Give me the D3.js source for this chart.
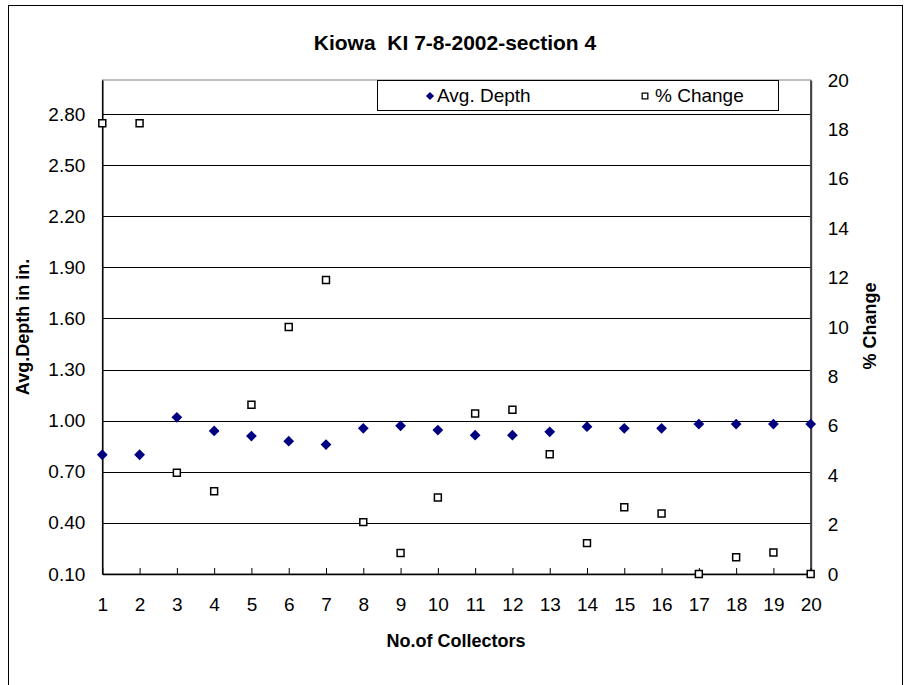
<!doctype html>
<html>
<head>
<meta charset="UTF-8">
<title>Kiowa KI 7-8-2002-section 4</title>
<script src="https://d3js.org/d3.v7.min.js"></script>
<style>
  body { margin: 0; background: #fff; }
  text { font-family: Arial, "Liberation Sans", sans-serif; }
</style>
</head>
<body>
<svg id="chart" width="910" height="685"></svg>
<script>
  // data
  var collectors = [1, 2, 3, 4, 5, 6, 7, 8, 9, 10, 11, 12, 13, 14, 15, 16, 17, 18, 19, 20];
  var avgDepth = [0.80, 0.80, 1.02, 0.94, 0.91, 0.88, 0.86, 0.955, 0.97, 0.945,
                  0.915, 0.915, 0.935, 0.965, 0.955, 0.955, 0.98, 0.98, 0.98, 0.98];
  var pctChange = [18.25, 18.25, 4.1, 3.35, 6.85, 10.0, 11.9, 2.1, 0.85, 3.1,
                   6.5, 6.65, 4.85, 1.25, 2.7, 2.45, 0, 0.68, 0.87, 0];
  var leftTicks = [0.10, 0.40, 0.70, 1.00, 1.30, 1.60, 1.90, 2.20, 2.50, 2.80];
  var rightTicks = [0, 2, 4, 6, 8, 10, 12, 14, 16, 18, 20];

  // plot area edges (window.top is reserved, so prefixed names)
  var plotL = 102.3, plotR = 810.7, plotT = 80, plotB = 574;

  var svg = d3.select("#chart");

  // outer chart border
  svg.append("rect")
    .attr("x", 8.5).attr("y", 5.5)
    .attr("width", 894).attr("height", 700)
    .attr("fill", "#fff").attr("stroke", "#000").attr("stroke-width", 1);

  var x = d3.scaleLinear().domain([1, 20]).range([plotL, plotR]);
  var yL = d3.scaleLinear().domain([0.1, 3.0]).range([plotB, plotT]);
  var yR = d3.scaleLinear().domain([0, 20]).range([plotB, plotT]);

  // plot area frame
  svg.append("rect")
    .attr("x", plotL).attr("y", plotT)
    .attr("width", plotR - plotL).attr("height", plotB - plotT)
    .attr("fill", "none").attr("stroke", "#808080").attr("stroke-width", 1);

  // gridlines from the left axis ticks
  svg.append("g").selectAll("line")
    .data(leftTicks.slice(1))
    .enter().append("line")
    .attr("x1", plotL).attr("x2", plotR)
    .attr("y1", function (d) { return Math.round(yL(d)) + 0.5; })
    .attr("y2", function (d) { return Math.round(yL(d)) + 0.5; })
    .attr("stroke", "#000").attr("stroke-width", 1);

  // left axis
  var gL = svg.append("g")
    .attr("transform", "translate(" + plotL + ",0)")
    .call(d3.axisLeft(yL).tickValues(leftTicks).tickFormat(d3.format(".2f"))
      .tickSize(0).tickPadding(17));
  gL.select(".domain").attr("stroke", "#000").attr("stroke-width", 1.5);

  // right axis
  var gR = svg.append("g")
    .attr("transform", "translate(" + plotR + ",0)")
    .call(d3.axisRight(yR).tickValues(rightTicks).tickSize(0).tickPadding(17));
  gR.select(".domain").attr("stroke", "#404040").attr("stroke-width", 2);

  // bottom axis, ticks point inward
  var gX = svg.append("g")
    .attr("transform", "translate(0," + plotB + ")")
    .call(d3.axisBottom(x).tickValues(collectors).tickFormat(d3.format("d"))
      .tickSizeInner(-6).tickSizeOuter(0).tickPadding(24));
  gX.select(".domain").attr("stroke", "#000").attr("stroke-width", 1.5);

  svg.selectAll(".tick text").attr("font-size", 19).attr("fill", "#000")
    .style("font-family", "Arial, 'Liberation Sans', sans-serif");
  svg.selectAll(".tick line").attr("stroke", "#000");

  // % Change squares
  svg.append("g").selectAll("path")
    .data(pctChange)
    .enter().append("path")
    .attr("d", d3.symbol().type(d3.symbolSquare).size(48))
    .attr("transform", function (d, i) {
      return "translate(" + x(collectors[i]) + "," + yR(d) + ")";
    })
    .attr("fill", "#fff").attr("stroke", "#000").attr("stroke-width", 1.5);

  // Avg. Depth diamonds
  svg.append("g").selectAll("path")
    .data(avgDepth)
    .enter().append("path")
    .attr("d", d3.symbol().type(d3.symbolSquare).size(58))
    .attr("transform", function (d, i) {
      return "translate(" + x(collectors[i]) + "," + yL(d) + ") rotate(45)";
    })
    .attr("fill", "#000080");

  // legend
  var lg = svg.append("g");
  lg.append("rect")
    .attr("x", 377.5).attr("y", 80.5).attr("width", 401).attr("height", 30)
    .attr("fill", "#fff").attr("stroke", "#000").attr("stroke-width", 1);
  lg.append("path")
    .attr("d", d3.symbol().type(d3.symbolSquare).size(34))
    .attr("transform", "translate(430,96) rotate(45)")
    .attr("fill", "#000080");
  lg.append("text").attr("x", 437).attr("y", 102).attr("font-size", 19).text("Avg. Depth");
  lg.append("path")
    .attr("d", d3.symbol().type(d3.symbolSquare).size(32))
    .attr("transform", "translate(645,96)")
    .attr("fill", "#fff").attr("stroke", "#000").attr("stroke-width", 1.3);
  lg.append("text").attr("x", 655).attr("y", 102).attr("font-size", 19).text("% Change");

  // titles
  svg.append("text")
    .attr("x", 455).attr("y", 50)
    .attr("text-anchor", "middle")
    .attr("font-size", 21).attr("font-weight", "bold")
    .style("white-space", "pre")
    .text("Kiowa  KI 7-8-2002-section 4");

  svg.append("text")
    .attr("x", 456).attr("y", 647)
    .attr("text-anchor", "middle")
    .attr("font-size", 18).attr("font-weight", "bold")
    .text("No.of Collectors");

  svg.append("text")
    .attr("transform", "translate(29,327) rotate(-90)")
    .attr("text-anchor", "middle")
    .attr("font-size", 18).attr("font-weight", "bold")
    .text("Avg.Depth in in.");

  svg.append("text")
    .attr("transform", "translate(876,326) rotate(-90)")
    .attr("text-anchor", "middle")
    .attr("font-size", 18).attr("font-weight", "bold")
    .text("% Change");
</script>
</body>
</html>
